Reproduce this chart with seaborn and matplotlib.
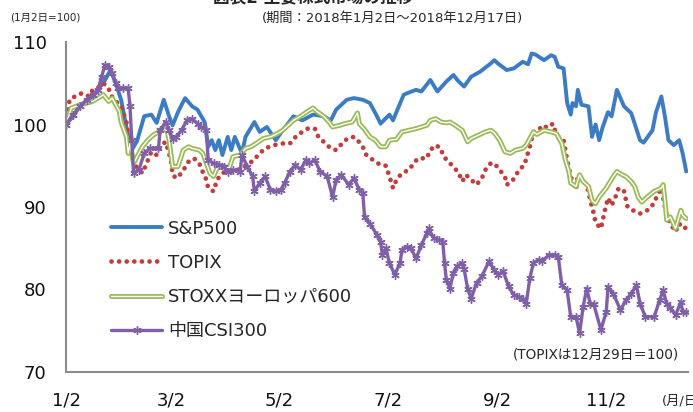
import pandas as pd
import matplotlib
matplotlib.use('Agg')
import matplotlib.pyplot as plt
import matplotlib.patheffects as pe
import seaborn as sns

# Days counted from 2018-01-02, values indexed to 100 on Jan 2
sp_days = [0, 4, 8, 12, 16, 20, 22, 25, 28, 31, 34, 37, 40, 44, 48, 51, 55, 58, 60, 63,
           67, 71, 74, 78, 80, 82, 84, 86, 88, 91, 93, 95, 99, 101, 106, 109, 113, 118, 122, 128,
           133, 139, 145, 149, 152, 158, 162, 167, 171, 175, 177, 182, 184, 190, 192, 197, 200, 205, 209, 214,
           218, 221, 224, 226, 228, 233, 239, 241, 243, 248, 252, 257, 260, 262, 264, 269, 273, 275, 277, 280,
           282, 284, 285, 287, 288, 290, 294, 296, 298, 300, 302, 305, 307, 310, 314, 318, 320, 323, 325, 330,
           332, 335, 337, 339, 342, 345, 347, 349]
sp_vals = [100.0, 101.0, 102.3, 103.0, 103.6, 104.8, 105.4, 106.6, 105.0, 103.0, 99.7, 96.9, 98.0, 101.0, 101.2, 100.2, 103.0, 101.0, 99.9, 101.5,
           103.2, 102.2, 101.8, 100.3, 97.3, 98.1, 96.9, 98.1, 96.3, 98.5, 96.9, 98.5, 96.5, 98.5, 100.3, 99.1, 99.7, 98.1, 99.3, 101.0,
           100.5, 101.2, 101.0, 100.5, 101.8, 103.0, 103.2, 103.0, 102.6, 101.0, 100.1, 101.2, 100.5, 103.6, 103.8, 104.2, 104.0, 105.4, 104.0, 105.2,
           106.0, 105.2, 104.6, 105.2, 105.8, 106.4, 107.4, 107.8, 107.4, 106.6, 106.8, 107.6, 107.3, 108.6, 108.5, 107.8, 108.4, 108.2, 107.0, 106.8,
           102.6, 101.2, 102.6, 102.2, 104.2, 102.4, 102.2, 98.5, 100.0, 98.1, 99.7, 101.5, 101.0, 104.2, 102.2, 101.4, 100.1, 98.1, 97.8, 99.3,
           101.5, 103.4, 101.0, 98.1, 97.5, 98.1, 96.5, 94.3]

topix_days = [0, 2, 5, 9, 13, 15, 19, 21, 24, 25, 29, 31, 34, 35, 36, 39, 43, 45, 48, 51,
              53, 56, 57, 59, 60, 62, 65, 69, 72, 75, 76, 79, 80, 83, 85, 88, 90, 94, 99, 103,
              106, 108, 112, 117, 122, 126, 130, 136, 140, 142, 149, 152, 157, 161, 163, 167, 169, 174, 177, 180,
              182, 184, 186, 189, 193, 195, 198, 201, 203, 205, 208, 211, 212, 215, 218, 221, 223, 225, 228, 231,
              234, 236, 239, 241, 244, 247, 248, 251, 255, 258, 259, 261, 263, 266, 268, 271, 274, 276, 280, 281,
              282, 284, 287, 288, 290, 293, 295, 297, 298, 301, 302, 303, 305, 307, 309, 311, 314, 316, 319, 323,
              328, 331, 333, 335, 337, 338, 340, 343, 345, 347, 349]
topix_vals = [100.0, 103.0, 103.4, 103.8, 103.4, 104.2, 104.6, 105.0, 104.4, 103.6, 102.6, 102.2, 100.3, 98.9, 96.9, 95.0, 94.1, 95.1, 96.7, 96.3,
              97.3, 97.9, 97.2, 95.7, 93.9, 93.5, 94.1, 95.5, 95.9, 95.3, 94.7, 93.3, 92.3, 91.9, 93.3, 94.1, 94.3, 94.3, 94.7, 95.3,
              95.7, 96.3, 97.1, 97.5, 97.7, 97.7, 98.7, 99.5, 99.5, 98.5, 97.1, 96.9, 98.1, 98.5, 98.4, 97.3, 96.3, 95.5, 95.1, 95.0,
              93.7, 92.3, 93.3, 94.1, 94.5, 95.1, 95.9, 95.9, 95.9, 96.9, 97.5, 97.1, 96.3, 95.5, 94.9, 94.1, 93.1, 93.9, 93.3, 92.7,
              93.5, 94.5, 95.3, 95.3, 94.5, 93.7, 92.7, 93.1, 94.5, 95.1, 95.9, 97.3, 99.1, 99.3, 99.9, 99.6, 100.1, 98.7, 98.1, 96.9,
              95.7, 93.7, 92.1, 93.9, 93.3, 92.7, 90.8, 89.2, 88.1, 87.4, 88.4, 89.4, 91.1, 90.2, 91.1, 92.3, 91.9, 90.0, 89.6, 89.2,
              89.7, 90.5, 91.6, 92.3, 90.0, 89.0, 88.0, 87.0, 88.0, 87.4, 87.5]

stoxx_days = [0, 3, 8, 12, 15, 18, 21, 24, 26, 28, 30, 31, 34, 35, 36, 38, 41, 43, 46, 49,
              52, 55, 57, 58, 59, 60, 63, 66, 69, 71, 75, 77, 79, 81, 83, 85, 88, 92, 94, 98,
              101, 104, 107, 111, 115, 119, 122, 125, 128, 132, 136, 139, 141, 145, 148, 150, 154, 157, 161, 164,
              165, 168, 171, 174, 177, 180, 182, 186, 189, 193, 197, 200, 203, 205, 208, 211, 214, 216, 219, 223,
              226, 228, 232, 236, 239, 241, 244, 247, 250, 253, 257, 259, 261, 263, 265, 269, 273, 276, 279, 281,
              283, 284, 287, 289, 291, 294, 296, 298, 300, 304, 308, 310, 313, 315, 318, 320, 322, 324, 327, 331,
              335, 336, 337, 338, 340, 343, 346, 347, 349]
stoxx_vals = [100.0, 102.0, 102.4, 102.6, 102.8, 103.2, 103.6, 102.8, 103.2, 102.4, 101.6, 100.3, 98.5, 96.5, 97.7, 95.3, 96.5, 97.3, 98.1, 98.7,
              99.1, 99.5, 99.2, 98.1, 96.5, 94.9, 94.9, 96.9, 97.3, 97.1, 96.9, 96.5, 95.3, 94.1, 93.7, 94.7, 94.9, 94.8, 96.1, 96.3,
              97.1, 97.3, 97.7, 98.3, 98.5, 98.9, 99.3, 99.9, 100.5, 101.0, 101.6, 102.0, 101.6, 101.0, 100.3, 99.7, 99.9, 100.1, 100.3, 101.4,
              100.1, 99.4, 98.5, 98.1, 97.3, 97.3, 98.1, 98.2, 99.1, 99.3, 99.5, 99.7, 99.9, 100.5, 100.7, 100.3, 100.2, 100.3, 99.9, 99.3,
              97.9, 98.3, 98.7, 99.1, 99.3, 99.0, 98.1, 96.7, 96.5, 96.9, 97.1, 97.5, 98.3, 99.1, 98.8, 99.3, 99.1, 98.9, 97.7, 95.7,
              94.3, 92.9, 92.5, 93.9, 93.1, 92.5, 90.8, 90.4, 91.2, 92.3, 93.7, 94.3, 93.9, 93.7, 93.1, 92.5, 91.2, 90.6, 91.2, 91.9,
              92.3, 92.7, 90.8, 88.4, 88.8, 87.4, 89.6, 89.0, 88.6]

csi_days = [0, 4, 8, 12, 15, 18, 20, 22, 24, 26, 28, 29, 32, 35, 36, 37, 38, 41, 44, 47,
            52, 53, 56, 58, 60, 62, 65, 68, 71, 74, 76, 79, 80, 83, 86, 89, 91, 94, 98, 99,
            102, 105, 106, 109, 112, 115, 118, 121, 123, 126, 129, 132, 135, 137, 140, 143, 147, 150, 152, 155,
            159, 162, 165, 167, 168, 171, 175, 177, 178, 180, 182, 185, 188, 189, 192, 194, 197, 200, 203, 204,
            207, 210, 212, 213, 214, 216, 218, 220, 223, 224, 226, 228, 231, 234, 238, 241, 243, 246, 249, 252,
            255, 257, 259, 261, 263, 266, 268, 272, 275, 277, 279, 282, 284, 287, 289, 291, 293, 295, 297, 301,
            304, 305, 308, 312, 315, 318, 321, 323, 326, 331, 334, 336, 338, 340, 343, 346, 347, 349]
csi_vals = [100.0, 101.2, 102.2, 103.0, 103.6, 104.2, 105.8, 107.2, 107.0, 106.2, 105.0, 104.4, 104.4, 104.4, 102.2, 98.1, 94.1, 94.5, 96.5, 97.1,
            97.1, 99.3, 100.3, 99.3, 98.3, 98.5, 99.3, 100.5, 100.7, 100.1, 99.7, 99.3, 95.7, 95.3, 95.1, 94.9, 94.3, 94.5, 94.3, 96.3,
            94.9, 93.7, 91.9, 92.9, 93.7, 92.1, 91.9, 92.1, 92.9, 94.3, 95.1, 94.5, 95.7, 95.3, 95.7, 94.3, 93.7, 91.2, 93.3, 93.9,
            92.7, 93.5, 92.1, 91.7, 88.8, 88.0, 86.6, 85.8, 84.2, 85.0, 83.2, 81.8, 83.2, 84.8, 85.2, 85.0, 83.8, 85.4, 86.8, 87.4,
            86.2, 86.0, 85.8, 83.2, 81.2, 80.1, 82.0, 82.8, 83.2, 82.5, 80.1, 78.9, 80.8, 81.6, 83.4, 82.4, 81.8, 82.2, 80.4, 79.3,
            79.1, 78.8, 78.3, 81.4, 83.2, 83.6, 83.5, 84.2, 84.2, 84.0, 80.5, 79.9, 76.7, 76.7, 74.7, 77.9, 80.1, 78.3, 78.2, 75.1,
            77.3, 80.3, 79.5, 77.5, 78.7, 79.5, 80.5, 78.3, 76.7, 76.7, 78.7, 79.9, 78.3, 77.8, 76.9, 78.5, 77.3, 77.3]

tick_dates = ['2018-01-02', '2018-03-02', '2018-05-02', '2018-07-02', '2018-09-02', '2018-11-02']
tick_labels = ['1/2', '3/2', '5/2', '7/2', '9/2', '11/2']
y_ticks = [70, 80, 90, 100, 110]

start = pd.Timestamp('2018-01-02')


def make_df(days, vals):
    return pd.DataFrame({'date': start + pd.to_timedelta(days, unit='D'), 'value': vals})


sns.set_style('white')
plt.rcParams['font.family'] = ['DejaVu Sans', 'Noto Sans CJK JP']

fig = plt.figure(figsize=(6.93, 4.12), dpi=100)
ax = fig.add_axes([66 / 693, 40 / 412, 622 / 693, 330 / 412])

blue = '#3c7cc4'
red = '#c43c3c'
green = '#9bbb59'
purple = '#7f5fa8'

sns.lineplot(data=make_df(sp_days, sp_vals), x='date', y='value', ax=ax,
             color=blue, lw=2.8, label='S&P500')
sns.lineplot(data=make_df(topix_days, topix_vals), x='date', y='value', ax=ax,
             color=red, lw=3.4, linestyle=(0, (0.01, 1.6)), dash_capstyle='round',
             label='TOPIX')
sns.lineplot(data=make_df(stoxx_days, stoxx_vals), x='date', y='value', ax=ax,
             color='white', lw=1.0, label='STOXXヨーロッパ600',
             path_effects=[pe.Stroke(linewidth=3.6, foreground=green), pe.Normal()])
sns.lineplot(data=make_df(csi_days, csi_vals), x='date', y='value', ax=ax,
             color=purple, lw=2.4, marker=(6, 2, 0), markersize=6, markeredgewidth=1.0,
             markeredgecolor=purple, label='中国CSI300')

ax.set_xlim(start, pd.Timestamp('2018-12-18'))
ax.set_ylim(70, 110)
ax.set_xticks(pd.to_datetime(tick_dates))
ax.set_xticklabels(tick_labels)
ax.set_yticks(y_ticks)
ax.set_xlabel('')
ax.set_ylabel('')

for side in ['top', 'right']:
    ax.spines[side].set_visible(False)
for side in ['left', 'bottom']:
    ax.spines[side].set_color('#8c8c8c')
    ax.spines[side].set_linewidth(1.5)
ax.tick_params(axis='both', direction='out', length=5, width=1.2, color='#8c8c8c',
               labelsize=13, labelcolor='#111111')
ax.tick_params(axis='x', pad=9)
ax.tick_params(axis='y', pad=9)

ax.legend(loc='upper left', bbox_to_anchor=(0.073, 0.462), frameon=False,
          fontsize=13, handlelength=2.8, handletextpad=0.35, labelspacing=0.9,
          borderpad=0, borderaxespad=0)

fig.text(313 / 693, 1 - 6 / 412, '図表2 主要株式市場の推移', ha='center', va='bottom',
         fontsize=12, fontweight='bold')
fig.text(10 / 693, 1 - 18 / 412, '(1月2日=100)', fontsize=7.5, va='center')
fig.text(262 / 693, 1 - 18 / 412, '(期間：2018年1月2日～2018年12月17日)', fontsize=9.5, va='center')
fig.text(513 / 693, 1 - 355 / 412, '(TOPIXは12月29日＝100)', fontsize=9.8, va='center')
fig.text(662 / 693, 1 - 401 / 412, '(月/日)', fontsize=9.5, va='center')

fig.savefig('out.png', dpi=100)
